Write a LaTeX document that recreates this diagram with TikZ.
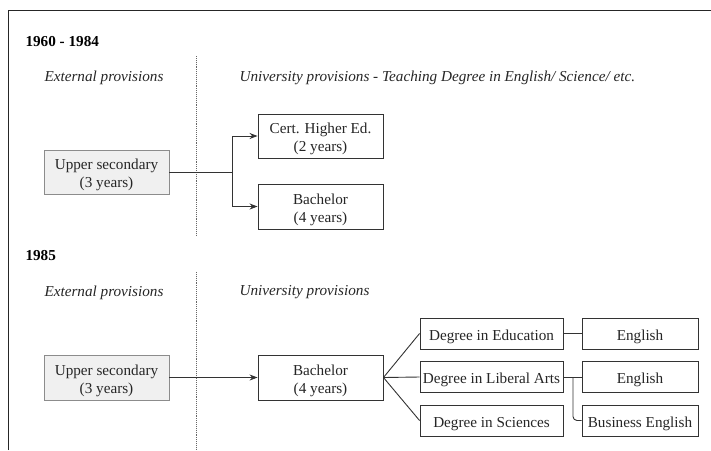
\documentclass[tikz,border=0pt]{standalone}
\usepackage{fontspec}
\setmainfont{Liberation Serif}
\usetikzlibrary{arrows.meta}
% tall strut that lowers box text a little
\newcommand{\liftstrut}{\rule{0pt}{16.5pt}}
\begin{document}
\begin{tikzpicture}[x=1pt,y=-1pt,
  every node/.style={font=\fontsize{15.2}{18}\selectfont, text=black!85},
  box/.style={draw=black!80, line width=0.9pt, fill=white, align=center, inner sep=0pt},
  greybox/.style={box, draw=black!45, fill=black!6},
  heading/.style={font=\fontsize{15.2}{18}\selectfont\bfseries, anchor=west, text=black},
  zone/.style={font=\fontsize{15.2}{18}\selectfont\itshape, anchor=west},
  divider/.style={densely dotted, line width=0.9pt, draw=black!60},
  link/.style={draw=black!80, line width=0.9pt},
  arrow/.style={link, -{Stealth[length=8pt,width=6pt]}}
]
\useasboundingbox (0,0) rectangle (711,450);
% outer frame
\draw[line width=1pt, black!85] (8,450) -- (8,10) -- (711,10);

% ---------- 1960 - 1984 ----------
\node[heading] (h1) at (22,41.5) {1960 - 1984};
\node[zone] (ext1) at (41,77.5) {External provisions};
\node[zone] (uni1) at (236,77.5) {University provisions - Teaching Degree in English/ Science/ etc.};
\draw[divider] (196,56) -- (196,235);

\node[greybox, minimum width=125pt, minimum height=44pt] (us1) at (106.5,172) {\liftstrut Upper secondary\\(3 years)};
\node[box, minimum width=125pt, minimum height=44pt] (cert) at (320.5,136) {\liftstrut Cert. Higher Ed.\\(2 years)};
\node[box, minimum width=125pt, minimum height=45pt] (bach1) at (320.5,206.5) {\liftstrut Bachelor\\(4 years)};

\coordinate (split1) at (232,172);
\draw[link] (us1.east) -- (split1);
\draw[arrow] (split1) |- (cert.west);
\draw[arrow] (split1) |- (bach1.west);

% ---------- 1985 ----------
\node[heading] (h2) at (22,255.5) {1985};
\node[zone] (ext2) at (41,292.5) {External provisions};
\node[zone] (uni2) at (236,292.5) {University provisions};
\draw[divider] (196,272) -- (196,450);

\node[greybox, minimum width=125pt, minimum height=45pt] (us2) at (106.5,377.5) {\liftstrut Upper secondary\\(3 years)};
\node[box, minimum width=125pt, minimum height=45pt] (bach2) at (320.5,377.5) {\liftstrut Bachelor\\(4 years)};
\draw[arrow] (us2.east) -- (bach2.west);

\node[box, minimum width=143pt, minimum height=31pt] (edu) at (491.5,333.5) {\liftstrut Degree in Education};
\node[box, minimum width=143pt, minimum height=31pt] (lib) at (491.5,377) {\liftstrut Degree in Liberal Arts};
\node[box, minimum width=143pt, minimum height=31pt] (sci) at (491.5,420.5) {\liftstrut Degree in Sciences};

\node[box, minimum width=116pt, minimum height=31pt] (eng1) at (640,333.5) {\liftstrut English};
\node[box, minimum width=116pt, minimum height=31pt] (eng2) at (640,377) {\liftstrut English};
\node[box, minimum width=116pt, minimum height=31pt] (beng) at (640,420.5) {\liftstrut Business English};

\draw[link] (bach2.east) -- (edu.west);
\draw[link] (bach2.east) -- (lib.west);
\draw[link] (bach2.east) -- (sci.west);

\draw[link] (edu.east) -- (eng1.west);
\draw[link] (lib.east) -- (eng2.west);
\coordinate (split2) at (573,377);
\draw[link, rounded corners=4pt] (split2) |- (beng.west);
\end{tikzpicture}
\end{document}
